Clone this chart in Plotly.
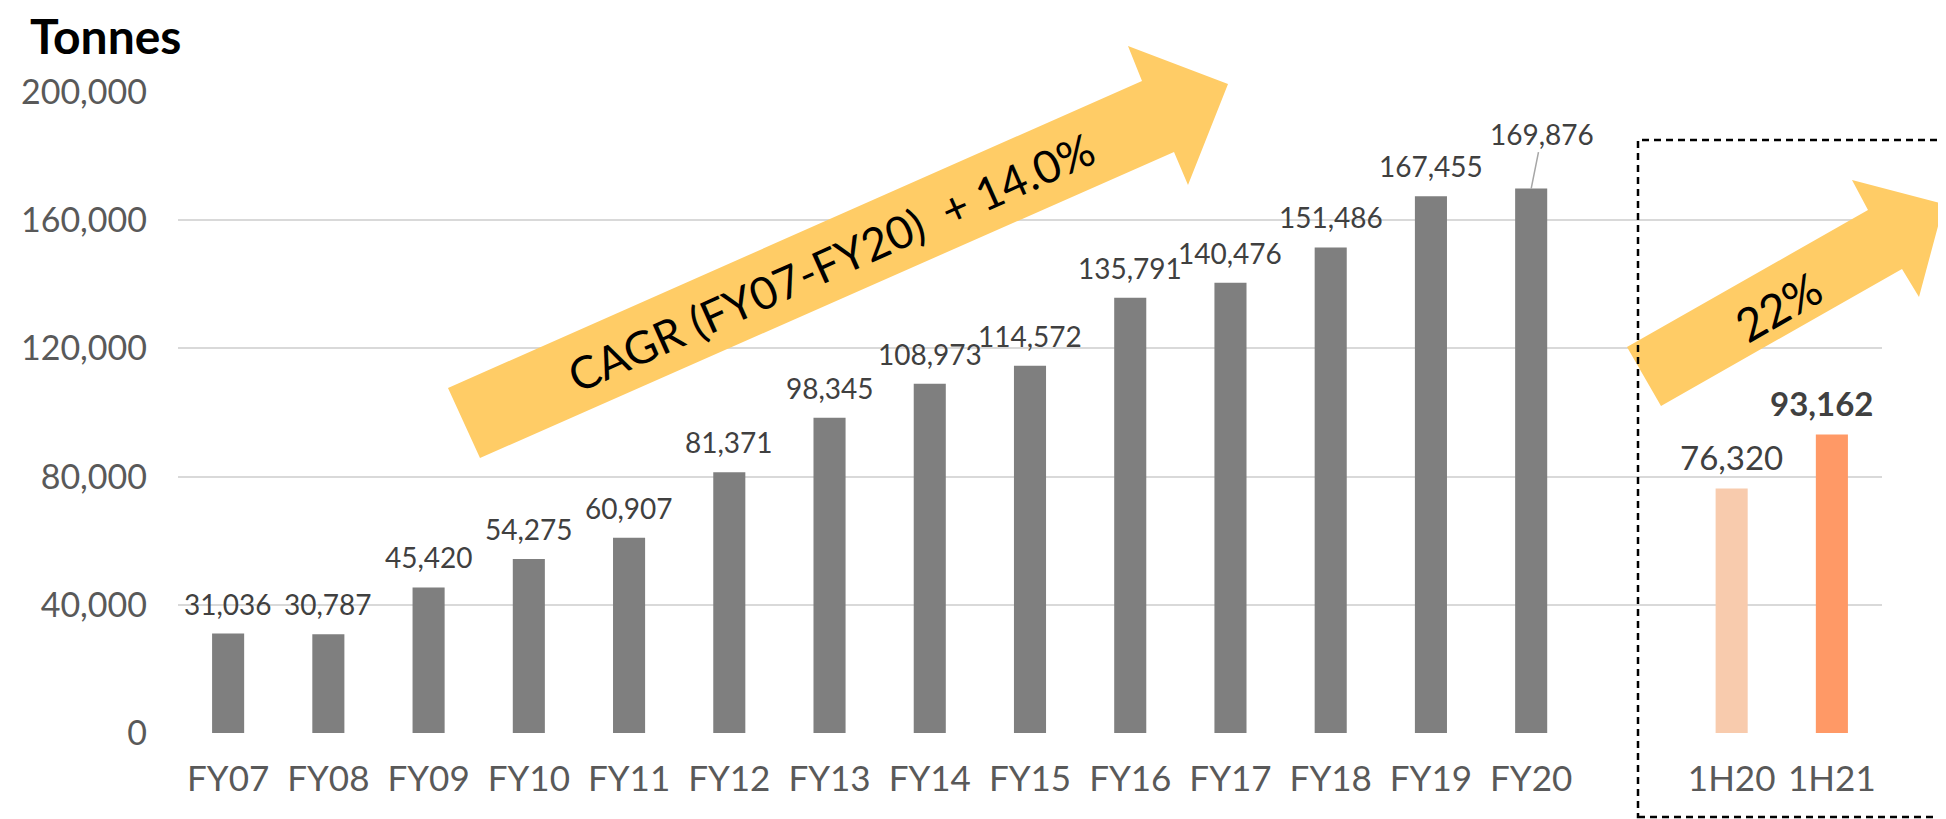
import plotly.graph_objects as go

# ---- data ----
fy_labels = ["FY07", "FY08", "FY09", "FY10", "FY11", "FY12", "FY13",
             "FY14", "FY15", "FY16", "FY17", "FY18", "FY19", "FY20"]
fy_values = [31036, 30787, 45420, 54275, 60907, 81371, 98345,
             108973, 114572, 135791, 140476, 151486, 167455, 169876]
h_labels = ["1H20", "1H21"]
h_values = [76320, 93162]
gap_label = " "
y_ticks = [0, 40000, 80000, 120000, 160000, 200000]
cagr_text = "CAGR (FY07-FY20)\u00a0\u00a0+ 14.0%"
growth_text = "22%"
unit_text = "Tonnes"

# ---- styles ----
FONT = "Lato"
GRAY = "#7F7F7F"
H_COLORS = ["#F8CBAD", "#FF9966"]
ARROW = "#FFCC66"
LABEL = "#404040"
TICK = "#595959"

# screen geometry (page has an 8px body margin)
O = 8
SW, SH = 1946, 819
SL, ST, SR, SB = 178, 92, 1882, 733
FW, FH = SW - O, SH - O
L, T = SL - O, ST - O
R = FW - (SR - O)
B = FH - (SB - O)


def px(x):
    return (x - SL) / (SR - SL)


def py(y):
    return (SB - y) / (SB - ST)


categories = fy_labels + [gap_label] + h_labels
values = fy_values + [None] + h_values
colors = [GRAY] * len(fy_labels) + ["rgba(0,0,0,0)"] + H_COLORS

fig = go.Figure(go.Bar(
    x=categories, y=values, width=0.32,
    marker=dict(color=colors, line=dict(width=0)),
    hoverinfo="skip", showlegend=False,
))

ann = []
for c, v in zip(fy_labels, fy_values):
    a = dict(x=c, y=v, xref="x", yref="y", text=f"{v:,}",
             font=dict(family=FONT, size=28, color=LABEL),
             showarrow=False, yanchor="middle", yshift=30)
    if c == "FY20":
        a.update(showarrow=True, ax=11, ay=-55, arrowhead=0, arrowwidth=1.5,
                 arrowcolor="#A6A6A6", standoff=0, startstandoff=0, yshift=0)
    ann.append(a)

for i, (c, v) in enumerate(zip(h_labels, h_values)):
    ann.append(dict(x=c, y=v, xref="x", yref="y",
                    text=(f"<b>{v:,}</b>" if i == 1 else f"{v:,}"),
                    font=dict(family=FONT, size=33, color=LABEL),
                    showarrow=False, yanchor="middle", yshift=31,
                    xshift=(-10 if i == 1 else 0)))

ann.append(dict(xref="paper", yref="paper", x=px(28), y=py(36),
                xanchor="left", yanchor="middle", text=f"<b>{unit_text}</b>",
                font=dict(family=FONT, size=48, color="black"), showarrow=False))

ann.append(dict(xref="paper", yref="paper", x=px(831), y=py(262),
                xanchor="center", yanchor="middle", text=cagr_text, textangle=-24,
                font=dict(family=FONT, size=45, color="black"), showarrow=False))
ann.append(dict(xref="paper", yref="paper", x=px(1778), y=py(306),
                xanchor="center", yanchor="middle", text=growth_text, textangle=-30,
                font=dict(family=FONT, size=46, color="black"), showarrow=False))


def arrow_path(pts):
    return "M " + " L ".join(f"{px(x):.5f},{py(y):.5f}" for x, y in pts) + " Z"


arrow1 = [(448, 388), (1142, 81), (1128, 46), (1228, 84), (1188, 185), (1174, 152), (480, 458)]
arrow2 = [(1627, 347), (1868, 210), (1852, 180), (1944, 204), (1919, 297), (1902, 269), (1661, 406)]

shapes = [
    dict(type="path", xref="paper", yref="paper", path=arrow_path(arrow1),
         fillcolor=ARROW, line=dict(width=0), layer="above"),
    dict(type="path", xref="paper", yref="paper", path=arrow_path(arrow2),
         fillcolor=ARROW, line=dict(width=0), layer="above"),
    dict(type="rect", xref="paper", yref="paper", x0=px(1638), x1=px(1965),
         y0=py(817), y1=py(140), line=dict(color="black", width=2.5, dash="7px,5px"),
         fillcolor="rgba(0,0,0,0)", layer="above"),
]

fig.update_layout(
    width=FW, height=FH,
    margin=dict(l=L, r=R, t=T, b=B, autoexpand=False),
    paper_bgcolor="white", plot_bgcolor="white",
    font=dict(family=FONT),
    annotations=ann, shapes=shapes,
)
fig.update_xaxes(
    type="category", categoryorder="array", categoryarray=categories,
    range=[-0.5, len(categories) - 0.5],
    showgrid=False, showline=False, ticks="", zeroline=False,
    tickfont=dict(family=FONT, size=35, color=TICK),
    ticklabelstandoff=22, automargin=False, fixedrange=True,
)
fig.update_yaxes(
    range=[0, 200000], tickvals=y_ticks, tickformat=",d",
    showgrid=True, gridcolor="#D9D9D9", gridwidth=2,
    zeroline=False, showline=False, ticks="",
    tickfont=dict(family=FONT, size=34, color=TICK),
    ticklabelstandoff=30, automargin=False, fixedrange=True,
)

fig.write_html("out.html")
